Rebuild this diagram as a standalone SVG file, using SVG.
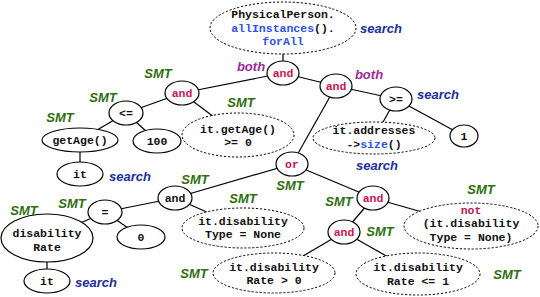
<svg xmlns="http://www.w3.org/2000/svg" width="540" height="297" viewBox="0 0 540 297">
<style>
.n{fill:#fff;stroke:#000;stroke-width:1.2}
.d{fill:#fff;stroke:#000;stroke-width:1;stroke-dasharray:2.2 1.8}
.t{font-family:"Liberation Mono",monospace;font-weight:bold;font-size:11.5px;text-anchor:middle;fill:#111}
.r{fill:#cc1450}
.b{fill:#2a50f5}
.lab{font-family:"Liberation Sans",Arial,sans-serif;font-weight:bold;font-style:italic;font-size:13px;text-anchor:middle}
.smt{fill:#2f6f0f}
.srch{fill:#1c2ea0}
.both{fill:#9a2a9a}
#edges line{stroke:#000;stroke-width:1.2}
</style>
<rect width="540" height="297" fill="#fff"/>
<g id="edges">
<line x1="283" y1="28" x2="283" y2="73"/>
<line x1="283" y1="73" x2="336" y2="86"/>
<line x1="283" y1="73" x2="182" y2="93"/>
<line x1="336" y1="86" x2="396" y2="99"/>
<line x1="396" y1="99" x2="464" y2="136"/>
<line x1="396" y1="99" x2="374" y2="138"/>
<line x1="336" y1="86" x2="292" y2="164"/>
<line x1="292" y1="164" x2="175" y2="198"/>
<line x1="292" y1="164" x2="373" y2="198"/>
<line x1="175" y1="198" x2="105" y2="212"/>
<line x1="175" y1="198" x2="243" y2="228"/>
<line x1="105" y1="212" x2="141" y2="237"/>
<line x1="105" y1="212" x2="47" y2="238"/>
<line x1="47" y1="238" x2="47" y2="281"/>
<line x1="373" y1="198" x2="471" y2="226"/>
<line x1="373" y1="198" x2="344" y2="232"/>
<line x1="344" y1="232" x2="274" y2="273"/>
<line x1="344" y1="232" x2="418" y2="274"/>
<line x1="182" y1="93" x2="126" y2="113"/>
<line x1="182" y1="93" x2="238" y2="135"/>
<line x1="126" y1="113" x2="80" y2="140"/>
<line x1="126" y1="113" x2="157" y2="141"/>
<line x1="80" y1="140" x2="80" y2="174"/>
</g>
<g id="top"><ellipse class="d" cx="283" cy="28" rx="73" ry="26"/>
<text class="t" x="283" y="18">PhysicalPerson.</text>
<text class="t" x="283" y="32"><tspan class="b">allInstances</tspan>().</text>
<text class="t b" x="283" y="45">forAll</text></g>
<g id="andRoot"><ellipse class="n" cx="283" cy="73" rx="16" ry="12"/><text class="t r" x="283" y="77">and</text></g>
<g id="and2"><ellipse class="n" cx="336" cy="86" rx="16" ry="12"/><text class="t r" x="336" y="90">and</text></g>
<g id="ge"><ellipse class="n" cx="396" cy="99" rx="16" ry="12"/><text class="t" x="396" y="103">&gt;=</text></g>
<g id="one"><ellipse class="n" cx="464" cy="136" rx="14" ry="11"/><text class="t" x="464" y="140">1</text></g>
<g id="addr"><ellipse class="d" cx="374" cy="138" rx="61" ry="16"/>
<text class="t" x="374" y="134">it.addresses</text>
<text class="t" x="374" y="148">-&gt;<tspan class="b">size</tspan>()</text></g>
<g id="or"><ellipse class="n" cx="292" cy="164" rx="16" ry="12"/><text class="t r" x="292" y="168">or</text></g>
<g id="andL"><ellipse class="n" cx="175" cy="198" rx="17" ry="12"/><text class="t" x="175" y="202">and</text></g>
<g id="eq"><ellipse class="n" cx="105" cy="212" rx="17" ry="12"/><text class="t" x="105" y="216">=</text></g>
<g id="zero"><ellipse class="n" cx="141" cy="237" rx="24" ry="12"/><text class="t" x="141" y="241">0</text></g>
<g id="disRate"><ellipse class="n" cx="47" cy="238" rx="46" ry="24"/>
<text class="t" x="47" y="237">disability</text><text class="t" x="47" y="251">Rate</text></g>
<g id="it2"><ellipse class="n" cx="47" cy="281" rx="23" ry="12"/><text class="t" x="47" y="285">it</text></g>
<g id="dtype"><ellipse class="d" cx="243" cy="228" rx="61" ry="20"/>
<text class="t" x="243" y="225">it.disability</text><text class="t" x="243" y="238">Type = None</text></g>
<g id="andR"><ellipse class="n" cx="373" cy="198" rx="16" ry="12"/><text class="t r" x="373" y="202">and</text></g>
<g id="not"><ellipse class="d" cx="471" cy="226" rx="67" ry="23"/>
<text class="t r" x="471" y="214">not</text><text class="t" x="471" y="227">(it.disability</text><text class="t" x="471" y="241">Type = None)</text></g>
<g id="andI"><ellipse class="n" cx="344" cy="232" rx="16" ry="12"/><text class="t r" x="344" y="236">and</text></g>
<g id="rgt0"><ellipse class="d" cx="274" cy="273" rx="61" ry="20"/>
<text class="t" x="274" y="271">it.disability</text><text class="t" x="274" y="284">Rate &gt; 0</text></g>
<g id="rle1"><ellipse class="d" cx="418" cy="274" rx="62" ry="21"/>
<text class="t" x="418" y="271">it.disability</text><text class="t" x="418" y="285">Rate &lt;= 1</text></g>
<g id="andTL"><ellipse class="n" cx="182" cy="93" rx="17" ry="12"/><text class="t r" x="182" y="97">and</text></g>
<g id="le"><ellipse class="n" cx="126" cy="113" rx="17" ry="12"/><text class="t" x="126" y="117">&lt;=</text></g>
<g id="getAge"><ellipse class="n" cx="80" cy="140" rx="38" ry="12"/><text class="t" x="80" y="144">getAge()</text></g>
<g id="hundred"><ellipse class="n" cx="157" cy="141" rx="24" ry="12"/><text class="t" x="157" y="145">100</text></g>
<g id="getAgeGE"><ellipse class="d" cx="238" cy="135" rx="56" ry="22"/>
<text class="t" x="238" y="133">it.getAge()</text><text class="t" x="238" y="146">&gt;= 0</text></g>
<g id="it1"><ellipse class="n" cx="80" cy="174" rx="23" ry="12"/><text class="t" x="80" y="178">it</text></g>
<g id="labels">
<text class="lab srch" x="381" y="33">search</text>
<text class="lab both" x="251" y="71">both</text>
<text class="lab both" x="369" y="79">both</text>
<text class="lab srch" x="438" y="99">search</text>
<text class="lab srch" x="377" y="170">search</text>
<text class="lab smt" x="158" y="78">SMT</text>
<text class="lab smt" x="103" y="102">SMT</text>
<text class="lab smt" x="60" y="122">SMT</text>
<text class="lab smt" x="241" y="107">SMT</text>
<text class="lab srch" x="130" y="181">search</text>
<text class="lab smt" x="290" y="190">SMT</text>
<text class="lab smt" x="195" y="184">SMT</text>
<text class="lab smt" x="72" y="208">SMT</text>
<text class="lab smt" x="24" y="215">SMT</text>
<text class="lab srch" x="96" y="287">search</text>
<text class="lab smt" x="243" y="203">SMT</text>
<text class="lab smt" x="339" y="206">SMT</text>
<text class="lab smt" x="481" y="194">SMT</text>
<text class="lab smt" x="380" y="236">SMT</text>
<text class="lab smt" x="194" y="278">SMT</text>
<text class="lab smt" x="507" y="279">SMT</text>
</g>
</svg>
